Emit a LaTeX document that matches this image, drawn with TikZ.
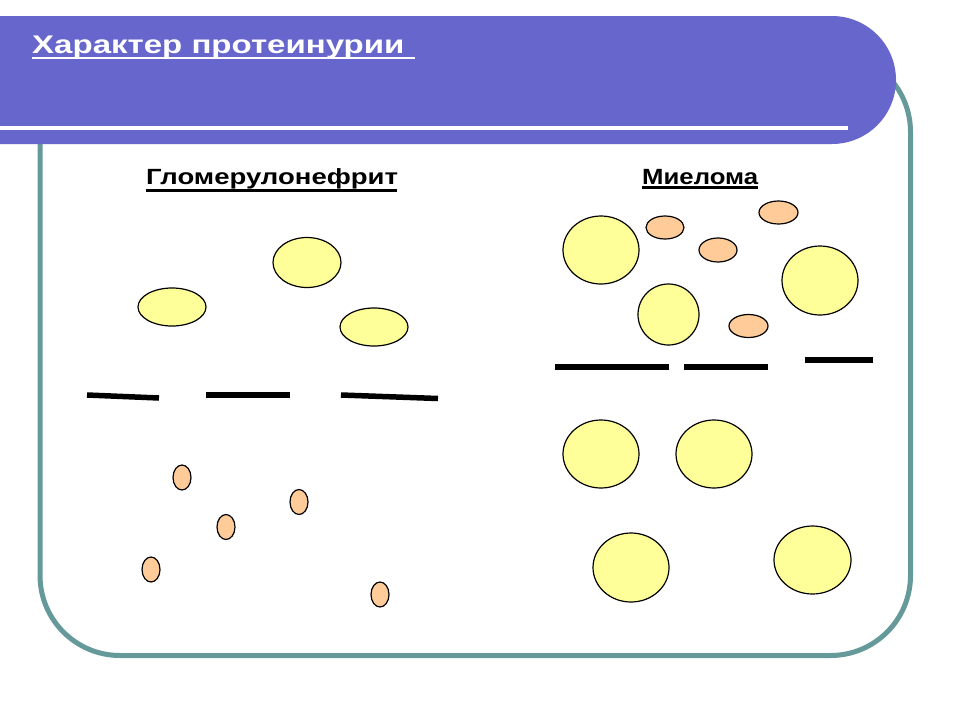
\documentclass[tikz,border=0pt]{standalone}
\usepackage{fontspec}
\setmainfont{Liberation Sans}
\usetikzlibrary{shapes.geometric}
\definecolor{hdr}{HTML}{6666CC}
\definecolor{frm}{HTML}{669999}
\definecolor{cellY}{HTML}{FFFF99}
\definecolor{cellO}{HTML}{FFCC99}
\tikzset{
  bigcell/.style={ellipse, draw=black, line width=1.2pt, fill=cellY, inner sep=0pt},
  smallcell/.style={ellipse, draw=black, line width=1.2pt, fill=cellO, inner sep=0pt},
  bar/.style={line width=5.5pt, black},
  ttl/.style={anchor=base west, inner sep=0pt, font=\bfseries\fontsize{25.5}{30}\selectfont, text=white},
  sub/.style={anchor=base west, inner sep=0pt, font=\bfseries\fontsize{22}{26}\selectfont, text=black}
}
\begin{document}
\begin{tikzpicture}[x=1pt,y=-1pt]
\useasboundingbox (0,0) rectangle (960,720);
\fill[white] (0,0) rectangle (960,720);
% frame
\draw[frm, line width=5pt, rounded corners=80pt] (40,52) rectangle (910.5,655.5);
% header band
\fill[hdr] (0,16) -- (832,16) arc[start angle=90, end angle=-90, radius=64pt] -- (0,144) -- cycle;
\fill[white] (0,126.3) rectangle (848,130.3);
% title
\node[ttl] (title) at (32,53.3) {\scalebox{1.295}[1]{Характер протеинурии}};
\draw[white, line width=2.5pt] (32,57.8) -- (415,57.8);
% subtitles
\node[sub] (glom) at (146,184) {\scalebox{1.25}[1]{Гломерулонефрит}};
\draw[black, line width=2.4pt] (146,190.5) -- (397,190.5);
\node[sub] (myel) at (642,184) {\scalebox{1.17}[1]{Миелома}};
\draw[black, line width=2.4pt] (642,187.5) -- (758,187.5);
% left: large cells above membrane
\node[bigcell, minimum width=68pt, minimum height=38pt] (l1) at (172,307) {};
\node[bigcell, minimum width=68pt, minimum height=50pt] (l2) at (307,262.5) {};
\node[bigcell, minimum width=68pt, minimum height=38pt] (l3) at (374,327) {};
% left membrane
\draw[bar] (87,395) -- (159,398);
\draw[bar] (206,395) -- (290,395);
\draw[bar] (341,395) -- (438,398.5);
% left: small cells below
\node[smallcell, minimum width=18pt, minimum height=25pt] (s1) at (182,477.5) {};
\node[smallcell, minimum width=18pt, minimum height=25pt] (s2) at (299,502) {};
\node[smallcell, minimum width=18pt, minimum height=25pt] (s3) at (226,527) {};
\node[smallcell, minimum width=18pt, minimum height=25pt] (s4) at (151,569.5) {};
\node[smallcell, minimum width=18pt, minimum height=25pt] (s5) at (380,594.5) {};
% right: above membrane
\node[bigcell, minimum width=76pt, minimum height=68pt] (r1) at (601,250) {};
\node[bigcell, minimum width=61pt, minimum height=61pt] (r2) at (668.5,314.5) {};
\node[bigcell, minimum width=76pt, minimum height=69pt] (r3) at (820,280.5) {};
\node[smallcell, minimum width=38pt, minimum height=23pt] (o1) at (665,227.5) {};
\node[smallcell, minimum width=39pt, minimum height=23pt] (o2) at (778.5,212.5) {};
\node[smallcell, minimum width=38pt, minimum height=24pt] (o3) at (718,250) {};
\node[smallcell, minimum width=39pt, minimum height=23pt] (o4) at (748.5,326) {};
% right membrane
\draw[bar] (555,367) -- (669,367);
\draw[bar] (684,367) -- (768,367);
\draw[bar] (805,360) -- (873,360);
% right: below membrane
\node[bigcell, minimum width=76pt, minimum height=68pt] (r4) at (601,454) {};
\node[bigcell, minimum width=76pt, minimum height=68pt] (r5) at (714,454) {};
\node[bigcell, minimum width=76pt, minimum height=69pt] (r6) at (631,567.5) {};
\node[bigcell, minimum width=77pt, minimum height=68pt] (r7) at (812.5,560) {};
\end{tikzpicture}
\end{document}
